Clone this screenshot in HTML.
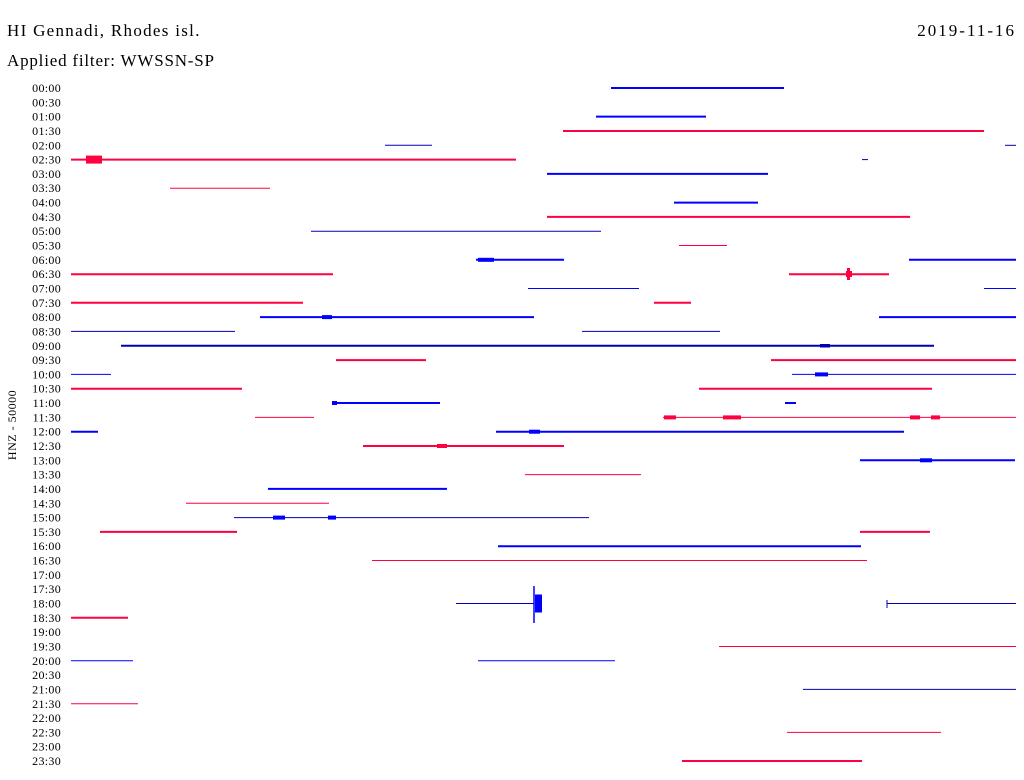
<!DOCTYPE html>
<html><head><meta charset="utf-8"><style>
html,body{margin:0;padding:0;background:#fff;}
svg{display:block;}
text{font-family:"Liberation Serif",serif;fill:#000;}
</style></head><body>
<svg width="1024" height="780" viewBox="0 0 1024 780" xmlns="http://www.w3.org/2000/svg">
<text x="7" y="36" font-size="17" letter-spacing="1.3">HI Gennadi, Rhodes isl.</text>
<text x="1016" y="36" font-size="17" letter-spacing="2" text-anchor="end">2019-11-16</text>
<text x="7" y="66" font-size="17" letter-spacing="0.8">Applied filter: WWSSN-SP</text>
<text transform="translate(16,425) rotate(-90)" font-size="12" text-anchor="middle" letter-spacing="0.5">HNZ - 50000</text>
<g font-size="12" text-anchor="end" letter-spacing="0.3">
<text x="61" y="92">00:00</text><text x="61" y="106.3">00:30</text><text x="61" y="120.6">01:00</text><text x="61" y="135">01:30</text>
<text x="61" y="149.3">02:00</text><text x="61" y="163.6">02:30</text><text x="61" y="177.9">03:00</text><text x="61" y="192.2">03:30</text>
<text x="61" y="206.6">04:00</text><text x="61" y="220.9">04:30</text><text x="61" y="235.2">05:00</text><text x="61" y="249.5">05:30</text>
<text x="61" y="263.8">06:00</text><text x="61" y="278.2">06:30</text><text x="61" y="292.5">07:00</text><text x="61" y="306.8">07:30</text>
<text x="61" y="321.1">08:00</text><text x="61" y="335.4">08:30</text><text x="61" y="349.8">09:00</text><text x="61" y="364.1">09:30</text>
<text x="61" y="378.4">10:00</text><text x="61" y="392.7">10:30</text><text x="61" y="407">11:00</text><text x="61" y="421.4">11:30</text>
<text x="61" y="435.7">12:00</text><text x="61" y="450">12:30</text><text x="61" y="464.3">13:00</text><text x="61" y="478.6">13:30</text>
<text x="61" y="492.9">14:00</text><text x="61" y="507.3">14:30</text><text x="61" y="521.6">15:00</text><text x="61" y="535.9">15:30</text>
<text x="61" y="550.2">16:00</text><text x="61" y="564.5">16:30</text><text x="61" y="578.9">17:00</text><text x="61" y="593.2">17:30</text>
<text x="61" y="607.5">18:00</text><text x="61" y="621.8">18:30</text><text x="61" y="636.1">19:00</text><text x="61" y="650.5">19:30</text>
<text x="61" y="664.8">20:00</text><text x="61" y="679.1">20:30</text><text x="61" y="693.4">21:00</text><text x="61" y="707.8">21:30</text>
<text x="61" y="722.1">22:00</text><text x="61" y="736.4">22:30</text><text x="61" y="750.7">23:00</text><text x="61" y="765">23:30</text>
</g>
<g fill="none">
<g stroke="#0000ff" stroke-width="2">
<line x1="611" y1="88" x2="784" y2="88"/>
<line x1="596" y1="116.6" x2="706" y2="116.6"/>
<line x1="547" y1="173.9" x2="768" y2="173.9"/>
<line x1="674" y1="202.6" x2="758" y2="202.6"/>
<line x1="476" y1="259.8" x2="564" y2="259.8"/>
<line x1="909" y1="259.8" x2="1016" y2="259.8"/>
<line x1="260" y1="317.1" x2="534" y2="317.1"/>
<line x1="879" y1="317.1" x2="1016" y2="317.1"/>
<line x1="332" y1="403" x2="440" y2="403"/>
<line x1="785" y1="403" x2="796" y2="403"/>
<line x1="71" y1="431.7" x2="98" y2="431.7"/>
<line x1="496" y1="431.7" x2="904" y2="431.7"/>
<line x1="860" y1="460.3" x2="1015" y2="460.3"/>
<line x1="268" y1="488.9" x2="447" y2="488.9"/>
<line x1="498" y1="546.2" x2="861" y2="546.2"/>
</g>
<g stroke="#0000ff" stroke-width="1">
<line x1="528" y1="288.5" x2="639" y2="288.5"/>
<line x1="984" y1="288.5" x2="1016" y2="288.5"/>
<line x1="71" y1="374.4" x2="111" y2="374.4"/>
<line x1="792" y1="374.4" x2="1016" y2="374.4"/>
<line x1="71" y1="660.8" x2="133" y2="660.8"/>
<line x1="478" y1="660.8" x2="615" y2="660.8"/>
</g>
<g stroke="#0000b0" stroke-width="1">
<line x1="385" y1="145.3" x2="432" y2="145.3"/>
<line x1="1005" y1="145.3" x2="1016" y2="145.3"/>
<line x1="862" y1="159.6" x2="868" y2="159.6"/>
<line x1="311" y1="231.2" x2="601" y2="231.2"/>
<line x1="71" y1="331.4" x2="235" y2="331.4"/>
<line x1="582" y1="331.4" x2="720" y2="331.4"/>
<line x1="234" y1="517.6" x2="589" y2="517.6"/>
<line x1="456" y1="603.5" x2="534" y2="603.5"/>
<line x1="887" y1="603.5" x2="1016" y2="603.5"/>
<line x1="803" y1="689.4" x2="1016" y2="689.4"/>
<line x1="887" y1="600" x2="887" y2="608"/>
</g>
<line x1="121" y1="345.8" x2="934" y2="345.8" stroke="#0000b0" stroke-width="2"/>
<g stroke="#ff0040" stroke-width="2">
<line x1="563" y1="131" x2="984" y2="131"/>
<line x1="71" y1="159.6" x2="516" y2="159.6"/>
<line x1="547" y1="216.9" x2="910" y2="216.9"/>
<line x1="71" y1="274.2" x2="333" y2="274.2"/>
<line x1="789" y1="274.2" x2="889" y2="274.2"/>
<line x1="71" y1="302.8" x2="303" y2="302.8"/>
<line x1="654" y1="302.8" x2="691" y2="302.8"/>
<line x1="336" y1="360.1" x2="426" y2="360.1"/>
<line x1="771" y1="360.1" x2="1016" y2="360.1"/>
<line x1="71" y1="388.7" x2="242" y2="388.7"/>
<line x1="699" y1="388.7" x2="932" y2="388.7"/>
<line x1="363" y1="446" x2="564" y2="446"/>
<line x1="100" y1="531.9" x2="237" y2="531.9"/>
<line x1="860" y1="531.9" x2="930" y2="531.9"/>
<line x1="71" y1="617.8" x2="128" y2="617.8"/>
<line x1="682" y1="761" x2="862" y2="761"/>
</g>
<g stroke="#ff0040" stroke-width="1">
<line x1="170" y1="188.2" x2="270" y2="188.2"/>
<line x1="679" y1="245.5" x2="727" y2="245.5"/>
<line x1="255" y1="417.4" x2="314" y2="417.4"/>
<line x1="663" y1="417.4" x2="1016" y2="417.4"/>
<line x1="525" y1="474.6" x2="641" y2="474.6"/>
<line x1="186" y1="503.3" x2="329" y2="503.3"/>
<line x1="372" y1="560.5" x2="867" y2="560.5"/>
<line x1="719" y1="646.5" x2="1016" y2="646.5"/>
<line x1="71" y1="703.8" x2="138" y2="703.8"/>
<line x1="787" y1="732.4" x2="941" y2="732.4"/>
</g>
<line x1="534" y1="586" x2="534" y2="623" stroke="#0000ff" stroke-width="1.5"/>
</g>
<g fill="#ff0040">
<rect x="86" y="155.6" width="16" height="8"/>
<rect x="846" y="271" width="6" height="6"/>
<rect x="847" y="268" width="3" height="12"/>
<rect x="664" y="415.4" width="12" height="4"/>
<rect x="723" y="415.4" width="18" height="4"/>
<rect x="910" y="415.4" width="10" height="4"/>
<rect x="931" y="415.4" width="9" height="4"/>
<rect x="437" y="444" width="10" height="4"/>
</g>
<g fill="#0000ff">
<rect x="478" y="257.8" width="16" height="4"/>
<rect x="322" y="315.1" width="10" height="4"/>
<rect x="332" y="401" width="5" height="4"/>
<rect x="529" y="429.7" width="11" height="4"/>
<rect x="920" y="458.3" width="12" height="4"/>
<rect x="273" y="515.6" width="12" height="4"/>
<rect x="328" y="515.6" width="8" height="4"/>
<rect x="815" y="372.4" width="13" height="4"/>
<rect x="535" y="594.5" width="7" height="18"/>
<rect x="820" y="344" width="10" height="3.5" fill="#0000b0"/>
</g>
</svg>
</body></html>
